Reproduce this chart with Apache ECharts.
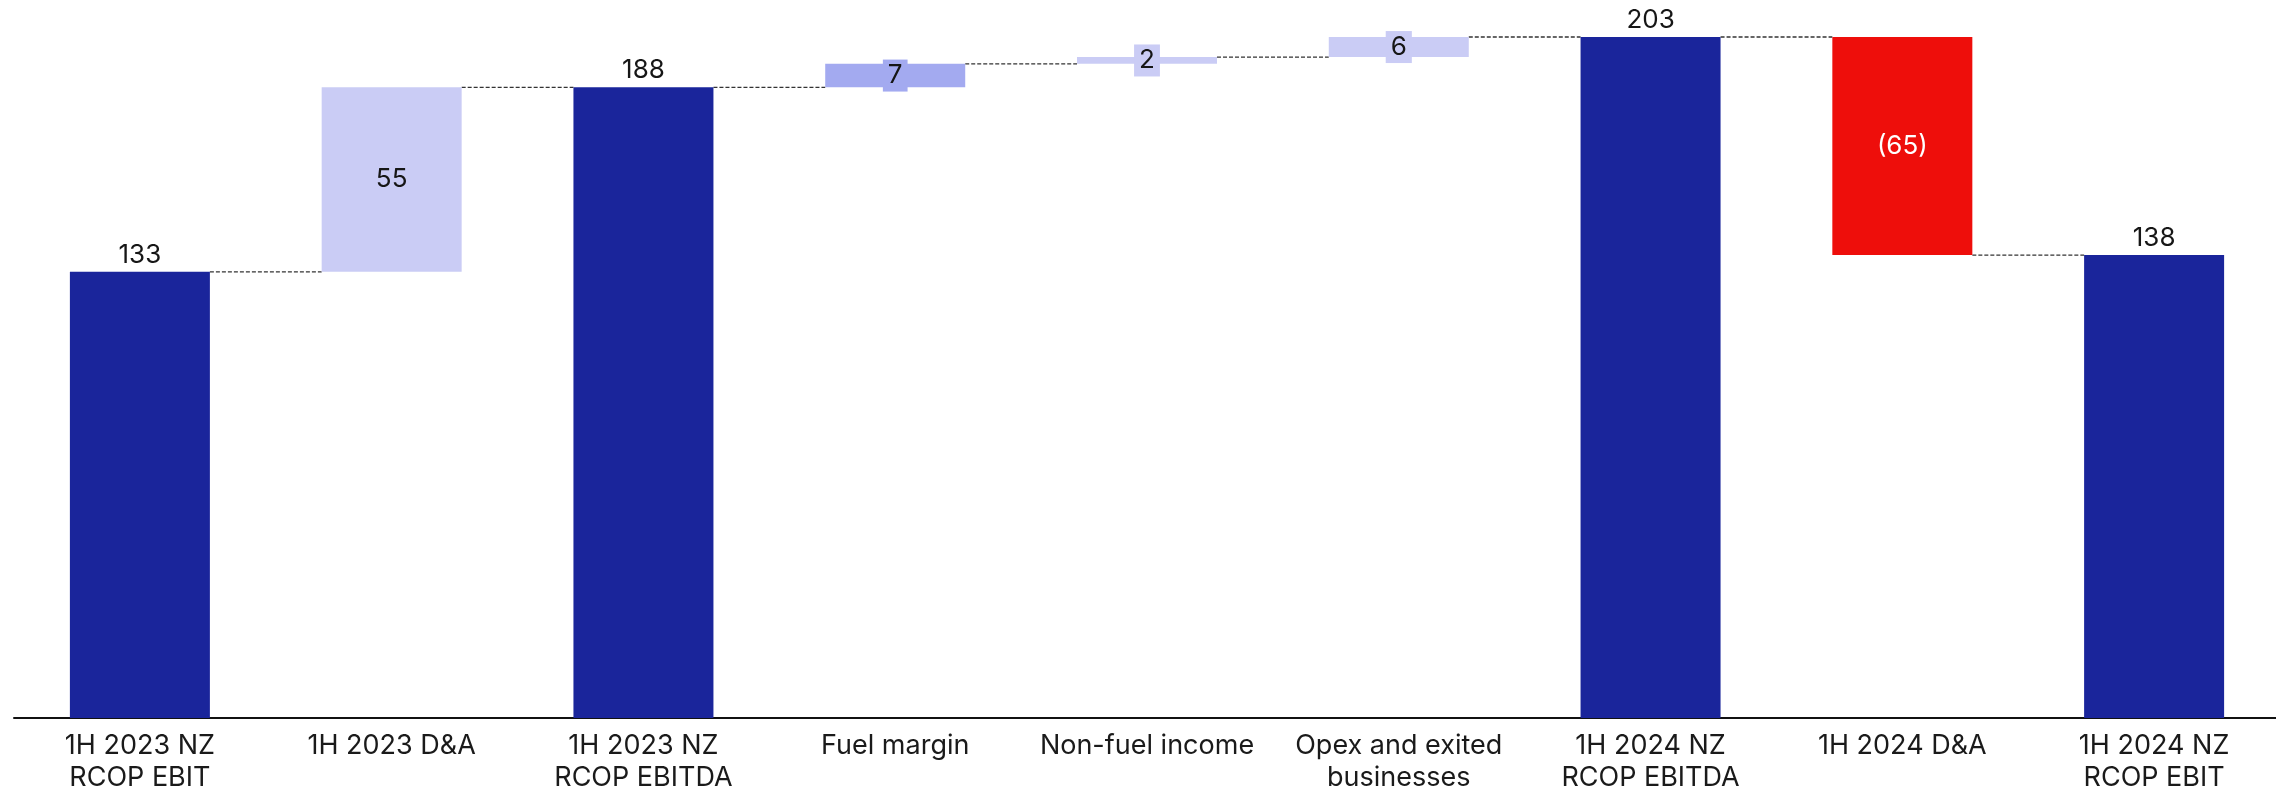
<!DOCTYPE html>
<html><head><meta charset="utf-8">
<script src="https://cdn.jsdelivr.net/npm/echarts@6/dist/echarts.min.js"></script>
<style>html,body{margin:0;padding:0;background:#fff;overflow:hidden}#chart{width:2276px;height:790px}</style>
</head><body><div id="chart"></div>
<script>
// NZ RCOP EBIT -> EBITDA bridge, 1H 2023 to 1H 2024 (NZ$m)
const categories = ['1H 2023 NZ\nRCOP EBIT', '1H 2023 D&A', '1H 2023 NZ\nRCOP EBITDA', 'Fuel margin', 'Non-fuel income', 'Opex and exited\nbusinesses', '1H 2024 NZ\nRCOP EBITDA', '1H 2024 D&A', '1H 2024 NZ\nRCOP EBIT'];
const values = [133, 55, 188, 7, 2, 6, 203, -65, 138];
const isTotal = [true, false, true, false, false, false, true, false, true];
const valueLabels = ['133', '55', '188', '7', '2', '6', '203', '(65)', '138'];

// visual roles per bar
const roles = ['total', 'step', 'total', 'fuel', 'step', 'step', 'total', 'down', 'total'];
const palette = { total: '#1A259B', step: '#CACCF5', fuel: '#A3AAF0', down: '#EE0E0B' };
const FONT = 'Inter';
const BAR_W = 140;

// floating base + visible height for each bar, and the running level after it
const bases = [], heights = [], levels = [];
let running = 0;
values.forEach((v, i) => {
  if (isTotal[i]) { bases.push(0); heights.push(v); running = v; }
  else if (v >= 0) { bases.push(running); heights.push(v); running += v; }
  else { bases.push(running + v); heights.push(-v); running += v; }
  levels.push(running);
});

const barData = heights.map((h, i) => {
  const role = roles[i];
  const label = { show: true, formatter: valueLabels[i], fontFamily: FONT, fontSize: 26, color: '#161616' };
  if (role === 'total') { label.position = 'top'; label.distance = 4; }
  else if (role === 'down') { label.position = 'inside'; label.color = '#ffffff'; }
  else if (h < 10) {
    label.position = 'inside';
    label.backgroundColor = palette[role];
    label.padding = [4, 5, 2, 5];
  } else { label.position = 'inside'; }
  return { value: h, itemStyle: { color: palette[role] }, label };
});

// dashed connectors between neighbouring bars
const connectorData = levels.slice(0, -1).map((lv, i) => [i, lv]);

const chart = echarts.init(document.getElementById('chart'), null, { renderer: 'canvas' });
chart.setOption({
  animation: false,
  backgroundColor: '#ffffff',
  grid: { left: 14, width: 2266, top: 13.5, bottom: 72, containLabel: false, outerBoundsMode: 'none' },
  xAxis: {
    type: 'category',
    data: categories,
    axisLine: { lineStyle: { color: '#111111', width: 2 } },
    axisTick: { show: false },
    axisLabel: { fontFamily: FONT, fontSize: 27, lineHeight: 32, color: '#1a1a1a', margin: 12, interval: 0 }
  },
  yAxis: { type: 'value', min: 0, max: 210, show: false, splitLine: { show: false } },
  series: [
    {
      type: 'bar', stack: 'bridge', barWidth: BAR_W, silent: true,
      itemStyle: { color: 'transparent' },
      data: bases
    },
    {
      type: 'bar', stack: 'bridge', barWidth: BAR_W,
      data: barData
    },
    {
      type: 'custom',
      silent: true,
      data: connectorData,
      renderItem: function (params, api) {
        const i = api.value(0), lv = api.value(1);
        const a = api.coord([i, lv]);
        const b = api.coord([i + 1, lv]);
        return {
          type: 'line',
          shape: { x1: a[0] + BAR_W / 2, y1: a[1], x2: b[0] - BAR_W / 2, y2: b[1] },
          style: { stroke: '#333333', lineWidth: 1.3, lineDash: [4, 2] }
        };
      }
    }
  ]
});
</script>
</body></html>
